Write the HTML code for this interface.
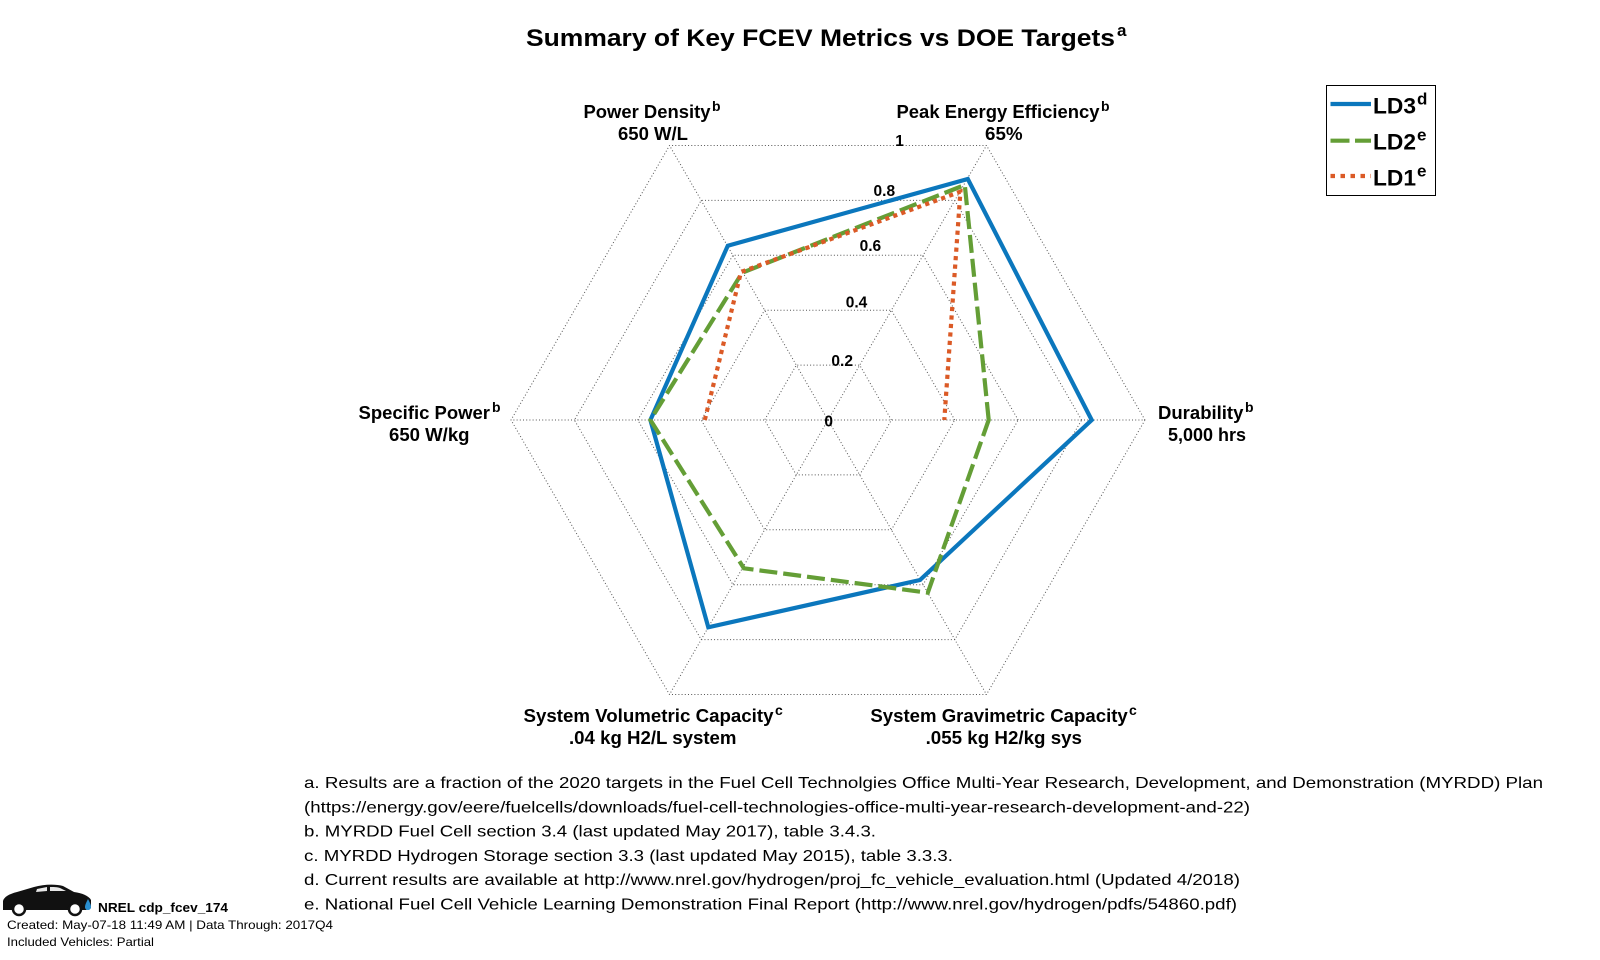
<!DOCTYPE html>
<html>
<head>
<meta charset="utf-8">
<style>
html,body{margin:0;padding:0;background:#fff;}
svg{display:block;}
text{font-family:"Liberation Sans",Arial,sans-serif;fill:#000;}
.b{font-weight:bold;}
</style>
</head>
<body>
<svg width="1600" height="960" viewBox="0 0 1600 960" xmlns="http://www.w3.org/2000/svg">
<rect x="0" y="0" width="1600" height="960" fill="#fff"/>

<!-- Title -->
<text class="b" x="526" y="46" font-size="24" textLength="589" lengthAdjust="spacingAndGlyphs">Summary of Key FCEV Metrics vs DOE Targets</text>
<text class="b" x="1117" y="36" font-size="17">a</text>

<!-- Grid -->
<g fill="none" stroke="#555" stroke-width="1" stroke-dasharray="1,2.2">
<polygon points="1145,420 986.5,145.5 669.5,145.5 511,420 669.5,694.5 986.5,694.5"/>
<polygon points="1081.6,420 954.8,200.4 701.2,200.4 574.4,420 701.2,639.6 954.8,639.6"/>
<polygon points="1018.2,420 923.1,255.3 732.9,255.3 637.8,420 732.9,584.7 923.1,584.7"/>
<polygon points="954.8,420 891.4,310.2 764.6,310.2 701.2,420 764.6,529.8 891.4,529.8"/>
<polygon points="891.4,420 859.7,365.1 796.3,365.1 764.6,420 796.3,474.9 859.7,474.9"/>
<line x1="828" y1="420" x2="1145" y2="420"/>
<line x1="828" y1="420" x2="986.5" y2="145.5"/>
<line x1="828" y1="420" x2="669.5" y2="145.5"/>
<line x1="828" y1="420" x2="511" y2="420"/>
<line x1="828" y1="420" x2="669.5" y2="694.5"/>
<line x1="828" y1="420" x2="986.5" y2="694.5"/>
</g>

<!-- Scale labels -->
<g class="b" font-size="15.5" text-anchor="middle">
<text class="b" x="899.6" y="146">1</text>
<text class="b" x="884.3" y="196">0.8</text>
<text class="b" x="870.4" y="251">0.6</text>
<text class="b" x="856.5" y="307.5">0.4</text>
<text class="b" x="842.2" y="366">0.2</text>
<text class="b" x="828.7" y="426.5">0</text>
</g>

<!-- Series -->
<polygon points="1091.7,420 967.8,179 727.8,245.7 650.4,420 708.3,627.3 920,580" fill="none" stroke="#0B77BD" stroke-width="4.2" stroke-linejoin="miter"/>
<polygon points="988.7,420 964.8,185 742.2,272.7 650.4,420 743.9,568.3 927.8,592.7" fill="none" stroke="#649E36" stroke-width="4.2" stroke-dasharray="18,6" stroke-linejoin="miter"/>
<polyline points="704.8,420 741,272 960.4,191.7 944.3,420" fill="none" stroke="#DB5A26" stroke-width="4.2" stroke-dasharray="4.2,4.3" stroke-linejoin="miter"/>

<!-- Axis labels -->
<text class="b" x="583.5" y="118" font-size="18" textLength="127" lengthAdjust="spacingAndGlyphs">Power Density</text>
<text class="b" x="712" y="111" font-size="14">b</text>
<text class="b" x="618" y="140" font-size="18" textLength="70" lengthAdjust="spacingAndGlyphs">650 W/L</text>

<text class="b" x="896.5" y="118" font-size="18" textLength="203" lengthAdjust="spacingAndGlyphs">Peak Energy Efficiency</text>
<text class="b" x="1101" y="111" font-size="14">b</text>
<text class="b" x="985" y="140" font-size="18" textLength="37.6" lengthAdjust="spacingAndGlyphs">65%</text>

<text class="b" x="358.5" y="419" font-size="18" textLength="131.5" lengthAdjust="spacingAndGlyphs">Specific Power</text>
<text class="b" x="492" y="412" font-size="14">b</text>
<text class="b" x="389" y="441" font-size="18" textLength="80.5" lengthAdjust="spacingAndGlyphs">650 W/kg</text>

<text class="b" x="1158" y="419" font-size="18" textLength="85.4" lengthAdjust="spacingAndGlyphs">Durability</text>
<text class="b" x="1245" y="412" font-size="14">b</text>
<text class="b" x="1168" y="441" font-size="18" textLength="78" lengthAdjust="spacingAndGlyphs">5,000 hrs</text>

<text class="b" x="523.5" y="722" font-size="18" textLength="250" lengthAdjust="spacingAndGlyphs">System Volumetric Capacity</text>
<text class="b" x="775" y="715" font-size="14">c</text>
<text class="b" x="569" y="744" font-size="18" textLength="167.5" lengthAdjust="spacingAndGlyphs">.04 kg H2/L system</text>

<text class="b" x="870.4" y="722" font-size="18" textLength="257.4" lengthAdjust="spacingAndGlyphs">System Gravimetric Capacity</text>
<text class="b" x="1129" y="715" font-size="14">c</text>
<text class="b" x="925.6" y="744" font-size="18" textLength="156.4" lengthAdjust="spacingAndGlyphs">.055 kg H2/kg sys</text>

<!-- Legend -->
<rect x="1326.5" y="85.5" width="109" height="110" fill="#fff" stroke="#000" stroke-width="1"/>
<line x1="1330.5" y1="104" x2="1371" y2="104" stroke="#0B77BD" stroke-width="4.2"/>
<line x1="1330.5" y1="140.7" x2="1371" y2="140.7" stroke="#649E36" stroke-width="4.2" stroke-dasharray="19,5.5"/>
<line x1="1330.5" y1="176" x2="1371" y2="176" stroke="#DB5A26" stroke-width="4.2" stroke-dasharray="4.5,5.5"/>
<text class="b" x="1373" y="113.5" font-size="22" textLength="43" lengthAdjust="spacingAndGlyphs">LD3</text>
<text class="b" x="1417" y="104.5" font-size="17">d</text>
<text class="b" x="1373" y="149.5" font-size="22" textLength="43" lengthAdjust="spacingAndGlyphs">LD2</text>
<text class="b" x="1417" y="140.5" font-size="17">e</text>
<text class="b" x="1373" y="185.5" font-size="22" textLength="43" lengthAdjust="spacingAndGlyphs">LD1</text>
<text class="b" x="1417" y="176.5" font-size="17">e</text>

<!-- Footnotes -->
<g font-size="16">
<text x="304" y="788" textLength="1239" lengthAdjust="spacingAndGlyphs">a. Results are a fraction of the 2020 targets in the Fuel Cell Technolgies Office Multi-Year Research, Development, and Demonstration (MYRDD) Plan</text>
<text x="304" y="812.3" textLength="946" lengthAdjust="spacingAndGlyphs">(https://energy.gov/eere/fuelcells/downloads/fuel-cell-technologies-office-multi-year-research-development-and-22)</text>
<text x="304" y="836.6" textLength="572" lengthAdjust="spacingAndGlyphs">b. MYRDD Fuel Cell section 3.4 (last updated May 2017), table 3.4.3.</text>
<text x="304" y="860.9" textLength="649" lengthAdjust="spacingAndGlyphs">c. MYRDD Hydrogen Storage section 3.3 (last updated May 2015), table 3.3.3.</text>
<text x="304" y="885.2" textLength="936" lengthAdjust="spacingAndGlyphs">d. Current results are available at http://www.nrel.gov/hydrogen/proj_fc_vehicle_evaluation.html (Updated 4/2018)</text>
<text x="304" y="909.5" textLength="933" lengthAdjust="spacingAndGlyphs">e. National Fuel Cell Vehicle Learning Demonstration Final Report (http://www.nrel.gov/hydrogen/pdfs/54860.pdf)</text>
</g>

<!-- Car icon -->
<path d="M3,910 L3,901 C4,897 9,894 17,892 L34,887 C44,884 56,884 63,886 L74,892 C82,893 89,896 91,900 L91,908 L86,910 Z" fill="#111"/>
<path d="M37,889 L47,887 L47,891 L36,892 Z M50,887 C55,887 59,887 62,889 L66,891 L50,891 Z" fill="#fff" opacity="0.9"/>
<circle cx="19" cy="909" r="6" fill="#fff" stroke="#111" stroke-width="2.5"/>
<circle cx="75" cy="909" r="6" fill="#fff" stroke="#111" stroke-width="2.5"/>
<path d="M88,899 C86,903 85,905 85,907 C85,909 86.5,910 88,910 C89.5,910 91,909 91,907 C91,905 90,903 88,899 Z" fill="#2a8fd0"/>
<text class="b" x="98" y="912" font-size="13" textLength="130" lengthAdjust="spacingAndGlyphs">NREL cdp_fcev_174</text>
<text x="7" y="929" font-size="12" textLength="326" lengthAdjust="spacingAndGlyphs">Created: May-07-18 11:49 AM | Data Through: 2017Q4</text>
<text x="7" y="946" font-size="12" textLength="147" lengthAdjust="spacingAndGlyphs">Included Vehicles: Partial</text>
</svg>
</body>
</html>
